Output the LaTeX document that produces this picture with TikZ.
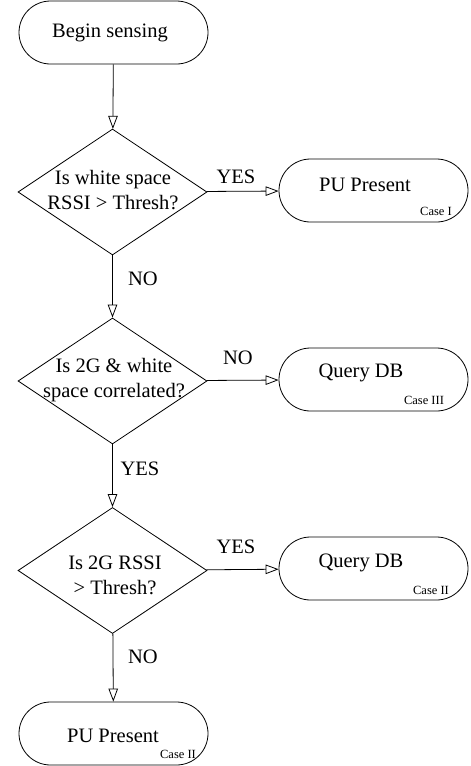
\documentclass[tikz,border=0pt]{standalone}
\usepackage{fontspec}
\setmainfont{Liberation Serif}
\usetikzlibrary{shapes.geometric,shapes.misc,arrows.meta}
\begin{document}
\begin{tikzpicture}[x=1pt,y=-1pt,
  every node/.style={font=\fontsize{20.5}{25}\selectfont},
  stadium/.style={draw, line width=0.8pt, rounded rectangle, minimum width=189pt, minimum height=63pt, inner sep=0pt},
  dia/.style={draw, line width=0.8pt, diamond, minimum width=189pt, minimum height=126pt, inner sep=0pt},
  qtext/.style={align=center, inner sep=0pt},
  casetext/.style={font=\fontsize{12.5}{14}\selectfont, inner sep=0pt},
  lbl/.style={inner sep=0pt},
  flow/.style={draw, line width=0.8pt, -{Triangle[open, length=13pt, width=9.5pt]}}
]
\useasboundingbox (0,0) rectangle (471,766);

\node[stadium] (begin) at (113.5,32.5) {};
\node[lbl] (begint) at (110,33) {Begin sensing};

\node[dia] (d1) at (112.5,192) {};
\node[qtext] (d1t) at (113,190) {Is white space\\RSSI > Thresh?};

\node[stadium] (p1) at (373.5,190.5) {};
\node[lbl] (p1t) at (365,185) {PU Present};
\node[casetext] (p1c) at (436,211) {Case I};

\node[dia] (d2) at (112.5,381) {};
\node[qtext] (d2t) at (114,380) {Is 2G \& white\\space correlated?};

\node[stadium] (q1) at (373.5,379.5) {};
\node[lbl] (q1t) at (361,373) {Query DB};
\node[casetext] (q1c) at (424,400) {Case III};

\node[dia] (d3) at (112.5,570.5) {};
\node[qtext] (d3t) at (115,575.5) {Is 2G RSSI\\> Thresh?};

\node[stadium] (q2) at (373.5,568.5) {};
\node[lbl] (q2t) at (361,563) {Query DB};
\node[casetext] (q2c) at (431,590) {Case II};

\node[stadium] (p2) at (113.5,733.5) {};
\node[lbl] (p2t) at (113,736) {PU Present};
\node[casetext] (p2c) at (178,754) {Case II};

\draw[flow] (begin) -- (d1);
\draw[flow] (d1) -- (p1);
\draw[flow] (d1) -- (d2);
\draw[flow] (d2) -- (q1);
\draw[flow] (d2) -- (d3);
\draw[flow] (d3) -- (q2);
\draw[flow] (d3) -- (p2);

\node[lbl] (l1) at (236,177) {YES};
\node[lbl] (l2) at (143,279) {NO};
\node[lbl] (l3) at (238,358) {NO};
\node[lbl] (l4) at (140,469) {YES};
\node[lbl] (l5) at (236,547) {YES};
\node[lbl] (l6) at (143,657) {NO};
\end{tikzpicture}
\end{document}
